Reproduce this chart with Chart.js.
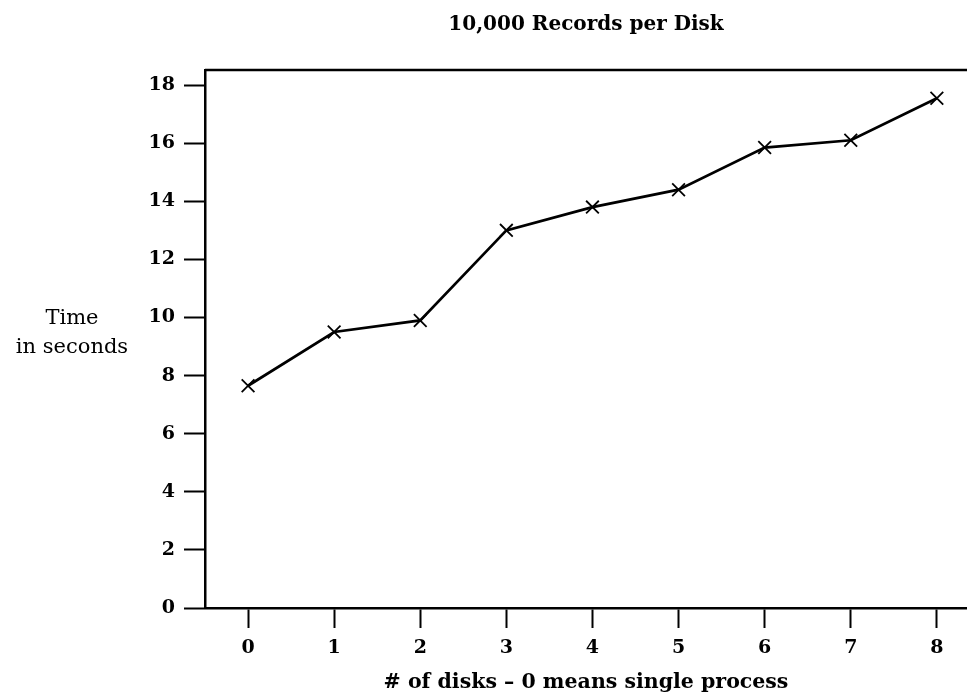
<!DOCTYPE html>
<html>
<head>
<meta charset="utf-8">
<title>10,000 Records per Disk</title>
<script src="https://cdn.jsdelivr.net/npm/chart.js@4"></script>
<style>
  html, body { margin: 0; padding: 0; background: #fff; overflow: hidden; }
  #wrap { width: 967px; height: 699px; }
</style>
</head>
<body>
<div id="wrap"><canvas id="chart" width="967" height="699"></canvas></div>
<script>
// --- data ---
const diskCounts = [0, 1, 2, 3, 4, 5, 6, 7, 8];
const timeSeconds = [7.65, 9.5, 9.9, 13.0, 13.8, 14.4, 15.85, 16.1, 17.55];
const xTickValues = [0, 1, 2, 3, 4, 5, 6, 7, 8];
const yTickValues = [0, 2, 4, 6, 8, 10, 12, 14, 16, 18];

const chartTitle = '10,000 Records per Disk';
const xTitle = '# of disks \u2013 0 means single process';
const yTitleLines = ['Time', 'in seconds'];

const serif = '"DejaVu Serif", "Liberation Serif", serif';

// title, side label and the top frame line
const extras = {
  id: 'extras',
  afterDraw(chart) {
    const { ctx, chartArea } = chart;
    ctx.save();
    ctx.strokeStyle = '#000';
    ctx.lineWidth = 2.5;
    ctx.beginPath();
    ctx.moveTo(chartArea.left, chartArea.top);
    ctx.lineTo(chartArea.right, chartArea.top);
    ctx.stroke();

    ctx.fillStyle = '#000';
    ctx.textAlign = 'center';
    ctx.textBaseline = 'middle';
    ctx.font = 'bold 20px ' + serif;
    ctx.fillText(chartTitle, (chartArea.left + chartArea.right) / 2, 25);

    ctx.font = '21px ' + serif;
    yTitleLines.forEach((line, i) => ctx.fillText(line, 72, 319 + i * 29));
    ctx.restore();
  }
};

new Chart(document.getElementById('chart'), {
  type: 'line',
  data: {
    datasets: [{
      data: diskCounts.map((d, i) => ({ x: d, y: timeSeconds[i] })),
      borderColor: '#000',
      borderWidth: 2.7,
      tension: 0,
      fill: false,
      pointStyle: 'crossRot',
      pointRadius: 9,
      pointBorderWidth: 1.8,
      pointBorderColor: '#000'
    }]
  },
  options: {
    responsive: false,
    animation: false,
    layout: { autoPadding: false, padding: { top: 70, right: 0, bottom: 0, left: 0 } },
    plugins: { legend: { display: false }, title: { display: false }, tooltip: { enabled: false } },
    scales: {
      x: {
        type: 'linear',
        min: -0.5,
        max: 8.35,
        afterBuildTicks: s => { s.ticks = xTickValues.map(v => ({ value: v })); },
        afterFit: s => { s.height = 91; s.paddingRight = 0; },
        border: { color: '#000', width: 2.5 },
        grid: { drawOnChartArea: false, tickLength: 20, tickColor: '#000', tickWidth: 2 },
        ticks: { color: '#000', padding: 9, font: { family: serif, size: 19, weight: 'bold' }, maxRotation: 0 },
        title: {
          display: true, text: xTitle, color: '#000',
          font: { family: serif, size: 20.5, weight: 'bold' },
          padding: { top: 0, bottom: 4 }
        }
      },
      y: {
        min: 0,
        max: 18.52,
        afterBuildTicks: s => { s.ticks = yTickValues.map(v => ({ value: v })); },
        afterFit: s => { s.width = 205; },
        border: { color: '#000', width: 2.5 },
        grid: { drawOnChartArea: false, tickLength: 21, tickColor: '#000', tickWidth: 2 },
        ticks: { color: '#000', padding: 9, font: { family: serif, size: 19, weight: 'bold' } }
      }
    }
  },
  plugins: [extras]
});
</script>
</body>
</html>
